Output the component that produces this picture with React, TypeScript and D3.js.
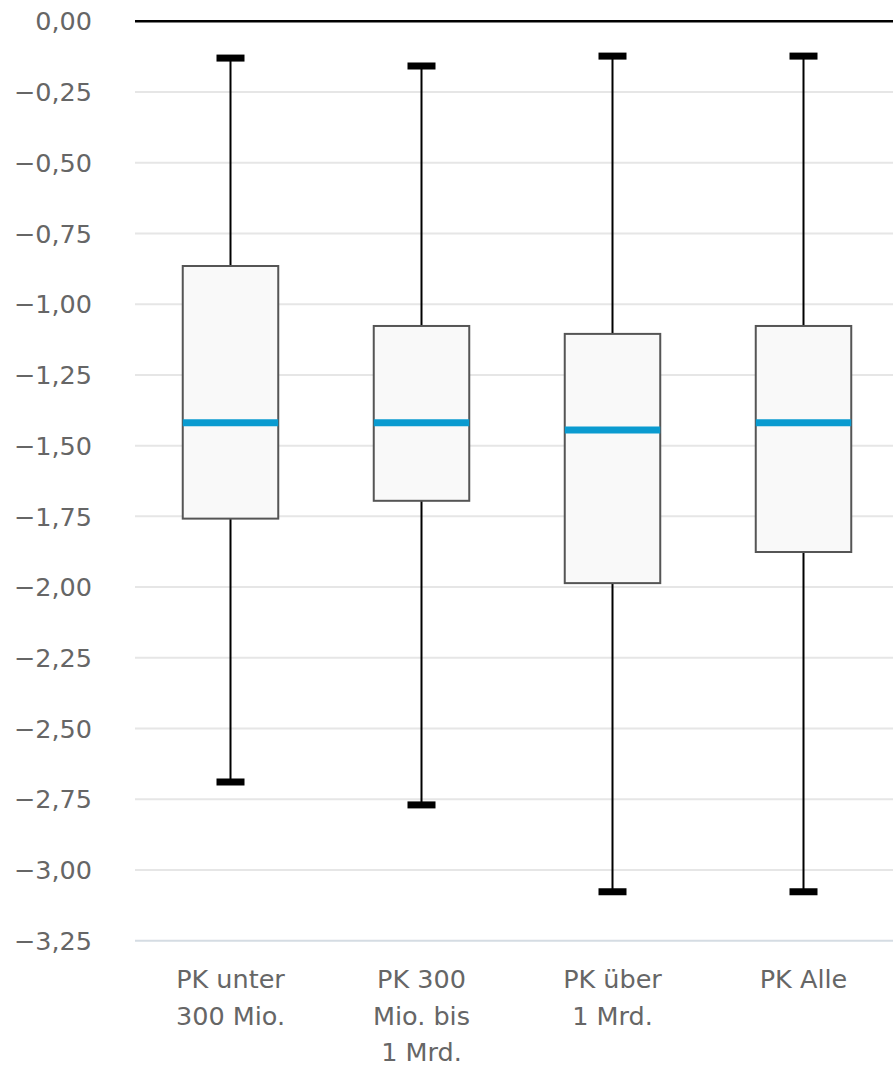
import React from "react";
import * as d3 from "d3";

const categories: string[][] = [
  ["PK unter", "300 Mio."],
  ["PK 300", "Mio. bis", "1 Mrd."],
  ["PK über", "1 Mrd."],
  ["PK Alle"],
];
const whiskerHigh = [-0.13, -0.158, -0.123, -0.123];
const q3 = [-0.865, -1.077, -1.105, -1.077];
const median = [-1.419, -1.419, -1.445, -1.419];
const q1 = [-1.758, -1.695, -1.986, -1.876];
const whiskerLow = [-2.689, -2.77, -3.077, -3.077];
const yTicks = [0, -0.25, -0.5, -0.75, -1, -1.25, -1.5, -1.75, -2, -2.25, -2.5, -2.75, -3, -3.25];

const W = 893;
const H = 1065;

export default function App() {
  const keys = categories.map((c) => c.join(" "));
  const x = d3
    .scaleBand<string>()
    .domain(keys)
    .range([135, 899])
    .paddingInner(0.5)
    .paddingOuter(0.25);
  const y = d3.scaleLinear().domain([0, -3.25]).range([21.3, 940.7]);
  const fmt = (v: number) =>
    (v < 0 ? "\u2212" : "") + Math.abs(v).toFixed(2).replace(".", ",");
  const bw = x.bandwidth();
  const capW = 28;
  const font = "'DejaVu Sans', sans-serif";

  return (
    <svg
      width={W}
      height={H}
      style={{ position: "absolute", left: 0, top: 0, background: "#fff" }}
    >
      {yTicks.map((t) => (
        <g key={t}>
          {t !== 0 && (
            <line
              x1={135}
              x2={W}
              y1={y(t)}
              y2={y(t)}
              stroke={t === -3.25 ? "#d5dce3" : "#e6e6e6"}
              strokeWidth={2}
            />
          )}
          <text
            x={92}
            y={y(t)}
            dy="0.36em"
            textAnchor="end"
            fontFamily={font}
            fontSize={25.5}
            fill="#666"
          >
            {fmt(t)}
          </text>
        </g>
      ))}
      <line x1={135} x2={W} y1={y(0)} y2={y(0)} stroke="#000" strokeWidth={2.5} />
      {keys.map((k, i) => {
        const x0 = x(k)!;
        const cx = x0 + bw / 2;
        return (
          <g key={k}>
            <line x1={cx} x2={cx} y1={y(whiskerHigh[i])} y2={y(q3[i])} stroke="#000" strokeWidth={2} />
            <line x1={cx} x2={cx} y1={y(q1[i])} y2={y(whiskerLow[i])} stroke="#000" strokeWidth={2} />
            <rect
              x={cx - capW / 2}
              y={y(whiskerHigh[i]) - 3.5}
              width={capW}
              height={7}
              fill="#000"
            />
            <rect
              x={cx - capW / 2}
              y={y(whiskerLow[i]) - 3.5}
              width={capW}
              height={7}
              fill="#000"
            />
            <rect
              x={x0}
              y={y(q3[i])}
              width={bw}
              height={y(q1[i]) - y(q3[i])}
              fill="#f9f9f9"
              stroke="#555"
              strokeWidth={2}
            />
            <line
              x1={x0}
              x2={x0 + bw}
              y1={y(median[i])}
              y2={y(median[i])}
              stroke="#0a9bd0"
              strokeWidth={7}
            />
            {categories[i].map((line, j) => (
              <text
                key={j}
                x={cx}
                y={988 + j * 36.5}
                textAnchor="middle"
                fontFamily={font}
                fontSize={25.5}
                fill="#666"
              >
                {line}
              </text>
            ))}
          </g>
        );
      })}
    </svg>
  );
}
